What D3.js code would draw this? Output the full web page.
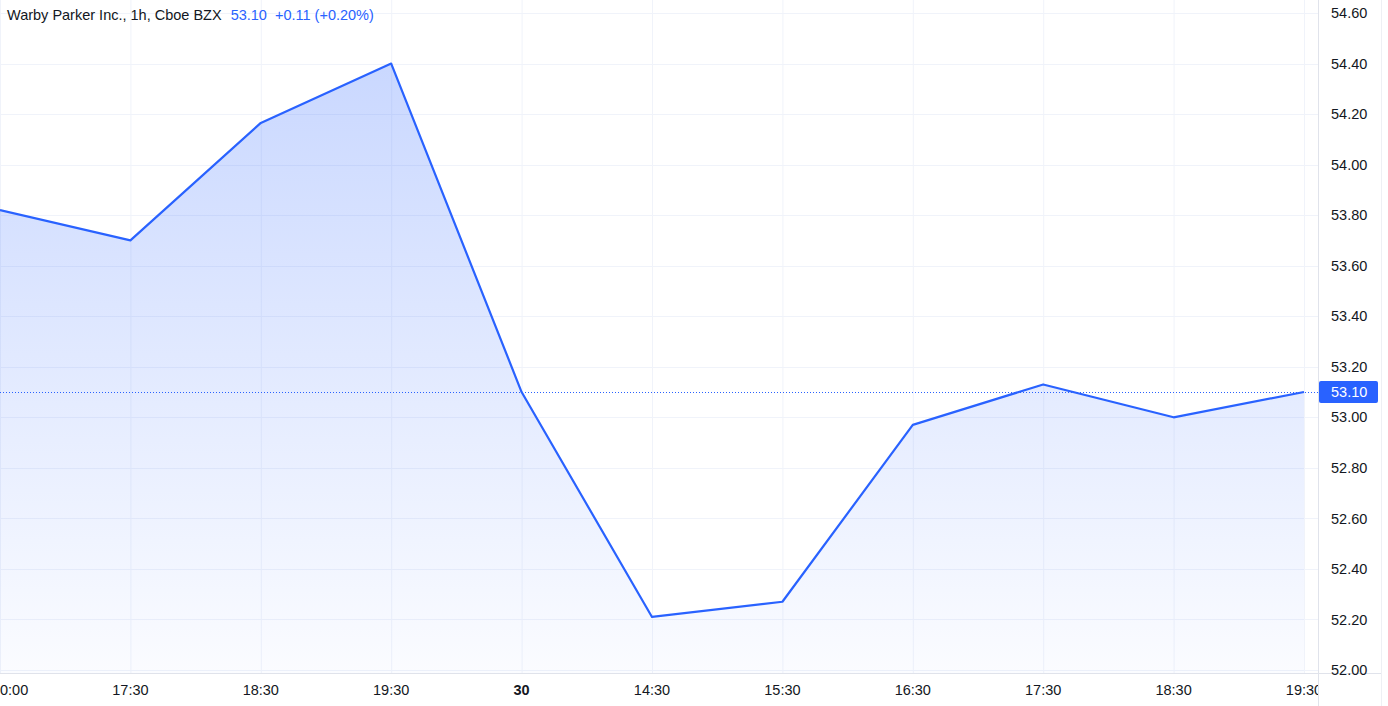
<!DOCTYPE html>
<html><head><meta charset="utf-8">
<script src="https://cdn.jsdelivr.net/npm/d3@7"></script>
<style>
html,body{margin:0;padding:0;background:#fff;overflow:hidden;}
svg{display:block;font-family:"Liberation Sans","DejaVu Sans",sans-serif;}
</style></head>
<body>
<svg id="c" width="1388" height="706"></svg>
<script>
const categories = ["0:00","17:30","18:30","19:30","30","14:30","15:30","16:30","17:30","18:30","19:30"];
const boldLabels = ["30"];
const values = [53.82, 53.70, 54.165, 54.40, 53.10, 52.21, 52.27, 52.97, 53.13, 53.00, 53.10];
const yTicks = [52.00,52.20,52.40,52.60,52.80,53.00,53.20,53.40,53.60,53.80,54.00,54.20,54.40,54.60];
const lastPrice = 53.10;
const title = "Warby Parker Inc., 1h, Cboe BZX";
const titleValues = ["53.10", "+0.11 (+0.20%)"];

const W = 1388, H = 706;
const plotRight = 1318, plotBottom = 673;
const svg = d3.select("#c");
const blue = "#2962FF";
const fs = 14.5;

const x = d3.scaleLinear().domain([0, categories.length - 1]).range([0, 1304]);
const y = d3.scaleLinear().domain([52.00, 54.60]).range([670, 13]);

const defs = svg.append("defs");
const grad = defs.append("linearGradient").attr("id","g").attr("gradientUnits","userSpaceOnUse")
  .attr("x1",0).attr("x2",0).attr("y1",y(d3.max(values))).attr("y2",plotBottom);
grad.append("stop").attr("offset","0%").attr("stop-color",blue).attr("stop-opacity",0.25);
grad.append("stop").attr("offset","100%").attr("stop-color",blue).attr("stop-opacity",0.02);
defs.append("clipPath").attr("id","clip").append("rect").attr("x",0).attr("y",0).attr("width",plotRight).attr("height",plotBottom);

const plot = svg.append("g").attr("clip-path","url(#clip)");

// grid
plot.selectAll(".vg").data(categories).join("line")
  .attr("x1",(d,i)=>x(i)+0.5).attr("x2",(d,i)=>x(i)+0.5).attr("y1",0).attr("y2",plotBottom)
  .attr("stroke","#f0f3fa").attr("stroke-width",1);
plot.selectAll(".hg").data(yTicks).join("line")
  .attr("x1",0).attr("x2",plotRight).attr("y1",d=>Math.round(y(d))+0.5).attr("y2",d=>Math.round(y(d))+0.5)
  .attr("stroke","#f0f3fa").attr("stroke-width",1);

// area
const area = d3.area().x((d,i)=>x(i)).y0(plotBottom).y1(d=>y(d));
plot.append("path").datum(values).attr("d",area).attr("fill","url(#g)");
// last price dotted line
plot.append("line").attr("x1",0).attr("x2",plotRight).attr("y1",Math.round(y(lastPrice))+0.5).attr("y2",Math.round(y(lastPrice))+0.5)
  .attr("stroke",blue).attr("stroke-width",1).attr("stroke-dasharray","1,2");
// line
const line = d3.line().x((d,i)=>x(i)).y(d=>y(d));
plot.append("path").datum(values).attr("d",line).attr("fill","none").attr("stroke",blue)
  .attr("stroke-width",2.2).attr("stroke-linejoin","round");

// axes borders
svg.append("line").attr("x1",plotRight+0.5).attr("x2",plotRight+0.5).attr("y1",0).attr("y2",H).attr("stroke","#e0e3eb");
svg.append("line").attr("x1",0).attr("x2",1381).attr("y1",plotBottom+0.5).attr("y2",plotBottom+0.5).attr("stroke","#e0e3eb");
svg.append("line").attr("x1",1381.5).attr("x2",1381.5).attr("y1",0).attr("y2",H).attr("stroke","#eef0f4");

// y axis labels
const yAxis = d3.axisRight(y).tickValues(yTicks).tickFormat(d3.format(".2f")).tickSize(0).tickPadding(0);
const ya = svg.append("g").attr("transform",`translate(${plotRight+13},0)`).call(yAxis);
ya.select(".domain").remove();
ya.selectAll("text").attr("font-size",fs).attr("fill","#131722").attr("font-family","'Liberation Sans',sans-serif");

// last price label
const py = y(lastPrice);
svg.append("rect").attr("x",plotRight+1).attr("y",py-11).attr("width",59).attr("height",22).attr("rx",2).attr("fill",blue);
svg.append("text").attr("x",plotRight+13).attr("y",py).attr("dy","0.35em").attr("fill","#fff")
  .attr("font-size",fs).text(d3.format(".2f")(lastPrice));

// x axis labels
const xa = svg.append("g");
xa.selectAll("text").data(categories).join("text")
  .attr("x",(d,i)=>x(i)).attr("y",690).attr("dy","0.35em")
  .attr("text-anchor",(d,i)=>i===0?"start":"middle")
  .attr("font-size",fs).attr("fill","#131722")
  .attr("font-weight",d=>boldLabels.includes(d)?"bold":"normal")
  .text(d=>d);
xa.attr("clip-path","url(#xclip)");
defs.append("clipPath").attr("id","xclip").append("rect").attr("x",0).attr("y",plotBottom).attr("width",plotRight).attr("height",H-plotBottom);

// title
const t = svg.append("text").attr("x",7).attr("y",15).attr("dy","0.35em").attr("font-size",fs);
t.append("tspan").attr("fill","#131722").text(title);
t.append("tspan").attr("fill",blue).attr("dx",9).text(titleValues[0]);
t.append("tspan").attr("fill",blue).attr("dx",8).text(titleValues[1]);
</script>
</body></html>
